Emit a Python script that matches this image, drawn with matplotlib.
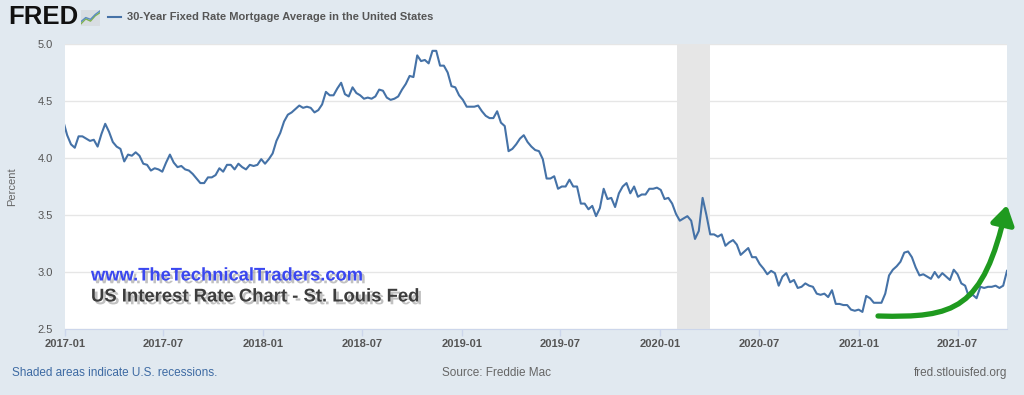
import numpy as np
import pandas as pd
import matplotlib
matplotlib.use('Agg')
import matplotlib.pyplot as plt
import matplotlib.dates as mdates
import matplotlib.patheffects as pe
from matplotlib.lines import Line2D
from matplotlib.path import Path
from matplotlib.patches import FancyArrowPatch, Rectangle

plt.rcParams['font.family'] = ['Liberation Sans', 'DejaVu Sans']

# weekly 30-year fixed mortgage rate (percent), thursdays from 2016-12-29
rate_2016 = [4.32]
rate_2017 = [4.20, 4.12, 4.09, 4.19, 4.19, 4.17, 4.15, 4.16, 4.10, 4.21, 4.30, 4.23, 4.14,
             4.10, 4.08, 3.97, 4.03, 4.02, 4.05, 4.02, 3.95, 3.94, 3.89, 3.91, 3.90, 3.88,
             3.96, 4.03, 3.96, 3.92, 3.93, 3.90, 3.89, 3.86, 3.82, 3.78, 3.78, 3.83, 3.83,
             3.85, 3.91, 3.88, 3.94, 3.94, 3.90, 3.95, 3.92, 3.90, 3.94, 3.93, 3.94, 3.99]
rate_2018 = [3.95, 3.99, 4.04, 4.15, 4.22, 4.32, 4.38, 4.40, 4.43, 4.46, 4.44, 4.45, 4.44,
             4.40, 4.42, 4.47, 4.58, 4.55, 4.55, 4.61, 4.66, 4.56, 4.54, 4.62, 4.57, 4.55,
             4.52, 4.53, 4.52, 4.54, 4.60, 4.59, 4.53, 4.51, 4.52, 4.54, 4.60, 4.65, 4.72,
             4.71, 4.90, 4.85, 4.86, 4.83, 4.94, 4.94, 4.81, 4.81, 4.75, 4.63, 4.62, 4.55]
rate_2019 = [4.51, 4.45, 4.45, 4.45, 4.46, 4.41, 4.37, 4.35, 4.35, 4.41, 4.31, 4.28, 4.06,
             4.08, 4.12, 4.17, 4.20, 4.14, 4.10, 4.07, 4.06, 3.99, 3.82, 3.82, 3.84, 3.73,
             3.75, 3.75, 3.81, 3.75, 3.75, 3.60, 3.60, 3.55, 3.58, 3.49, 3.56, 3.73, 3.64,
             3.65, 3.57, 3.69, 3.75, 3.78, 3.69, 3.75, 3.66, 3.68, 3.68, 3.73, 3.73, 3.74]
rate_2020 = [3.72, 3.64, 3.65, 3.60, 3.51, 3.45, 3.47, 3.49, 3.45, 3.29, 3.36, 3.65, 3.50,
             3.33, 3.33, 3.31, 3.33, 3.23, 3.26, 3.28, 3.24, 3.15, 3.18, 3.21, 3.13, 3.13,
             3.07, 3.03, 2.98, 3.01, 2.99, 2.88, 2.96, 2.99, 2.91, 2.93, 2.86, 2.87, 2.90,
             2.88, 2.87, 2.81, 2.80, 2.81, 2.78, 2.84, 2.72, 2.72, 2.71, 2.71, 2.67, 2.66, 2.67]
rate_2021 = [2.65, 2.79, 2.77, 2.73, 2.73, 2.73, 2.81, 2.97, 3.02, 3.05, 3.09, 3.17, 3.18,
             3.13, 3.04, 2.97, 2.98, 2.96, 2.94, 3.00, 2.95, 2.99, 2.96, 2.93, 3.02, 2.98,
             2.90, 2.88, 2.78, 2.80, 2.77, 2.87, 2.86, 2.87, 2.87, 2.88, 2.86, 2.88, 3.01]

rates = rate_2016 + rate_2017 + rate_2018 + rate_2019 + rate_2020 + rate_2021
dates = pd.date_range('2016-12-29', periods=len(rates), freq='7D')

recession = ('2020-02-01', '2020-04-01')
y_ticks = [2.5, 3.0, 3.5, 4.0, 4.5, 5.0]

BG = '#e1e9f0'
BLUE = '#4572a7'

fig = plt.figure(figsize=(10.24, 3.95), dpi=100, facecolor=BG)
W, H = 1024, 395
ax = fig.add_axes([65 / W, 1 - 329 / H, (1007 - 65) / W, (329 - 44) / H])
ax.set_facecolor('white')

ax.axvspan(pd.Timestamp(recession[0]), pd.Timestamp(recession[1]), color='#e6e6e6', lw=0, zorder=1)
ax.plot(dates, rates, color=BLUE, lw=1.5, zorder=3, solid_joinstyle='round')

ax.set_xlim(pd.Timestamp('2017-01-01'), dates[-1])
ax.set_ylim(2.5, 5.0)
ax.set_yticks(y_ticks)
ax.set_yticklabels([f'{t:.1f}' for t in y_ticks])
ax.yaxis.grid(True, color='#e6e6e6', lw=1)
ax.set_axisbelow(True)

ax.xaxis.set_major_locator(mdates.MonthLocator(bymonth=[1, 7]))
ax.xaxis.set_major_formatter(mdates.DateFormatter('%Y-%m'))

for s in ['top', 'right', 'left']:
    ax.spines[s].set_visible(False)
ax.spines['bottom'].set_color('#ccd6eb')
ax.tick_params(axis='y', length=0, pad=9, labelsize=8, labelcolor='#555555')
ax.tick_params(axis='x', length=5, width=1, color='#ccd6eb', pad=2, labelsize=8, labelcolor='#555555')
for lab in ax.get_xticklabels():
    lab.set_fontweight('bold')

ax.set_ylabel('Percent', fontsize=8, color='#666666')
ax.yaxis.set_label_coords(-48 / 942, 0.5)

# header
fig.text(8 / W, 1 - 17 / H, 'FRED', fontsize=18.5, fontweight='bold', color='#111111',
         va='center', ha='left')
icon = fig.add_axes([81 / W, 1 - 26 / H, 19 / W, 16 / H])
icon.add_patch(Rectangle((0, 0), 1, 1, transform=icon.transAxes, color='#d8dde2', zorder=0))
icon.plot([0, 1, 2, 3, 4], [0.5, 1.6, 1.1, 2.3, 3.0], color='#7fb24c', lw=1)
icon.plot([0, 1, 2, 3, 4], [1.0, 1.9, 1.5, 2.6, 3.4], color='#5b8cc0', lw=1)
icon.set_xlim(0, 4)
icon.set_ylim(0, 3.6)
icon.axis('off')

fig.add_artist(Line2D([108 / W, 121 / W], [1 - 17 / H, 1 - 17 / H], color=BLUE, lw=1.5))
fig.text(127 / W, 1 - 17 / H, '30-Year Fixed Rate Mortgage Average in the United States',
         fontsize=8, fontweight='bold', color='#555555', va='center', ha='left')

# footer
fig.text(12 / W, 1 - 373 / H, 'Shaded areas indicate U.S. recessions.', fontsize=8.5,
         color='#3d6aa3', va='center', ha='left')
fig.text(497 / W, 1 - 373 / H, 'Source: Freddie Mac', fontsize=8.5, color='#666666',
         va='center', ha='center')
fig.text(1007 / W, 1 - 373 / H, 'fred.stlouisfed.org', fontsize=8.5, color='#666666',
         va='center', ha='right')

# overlay annotations
shadow = [pe.withSimplePatchShadow(offset=(2, -2), shadow_rgbFace='#777777', alpha=0.45)]
fig.text(91 / W, 1 - 276 / H, 'www.TheTechnicalTraders.com', fontsize=13.2, fontweight='bold',
         color='#3a47f0', va='center', ha='left', path_effects=shadow)
fig.text(91 / W, 1 - 297 / H, 'US Interest Rate Chart - St. Louis Fed', fontsize=13.3,
         fontweight='bold', color='#3d3d3d', va='center', ha='left', path_effects=shadow)

pts = [(878, 316), (955, 318), (983, 310), (1007, 205)]
pts = [(x / W, 1 - y / H) for x, y in pts]
arrow_path = Path(pts, [Path.MOVETO, Path.CURVE4, Path.CURVE4, Path.CURVE4])
arrow = FancyArrowPatch(path=arrow_path, arrowstyle='-|>,head_length=0.8,head_width=0.5',
                        mutation_scale=14, color='#1f9a1f', lw=3.8, transform=fig.transFigure,
                        capstyle='round')
fig.add_artist(arrow)

plt.savefig('out.png', dpi=100, facecolor=BG)
